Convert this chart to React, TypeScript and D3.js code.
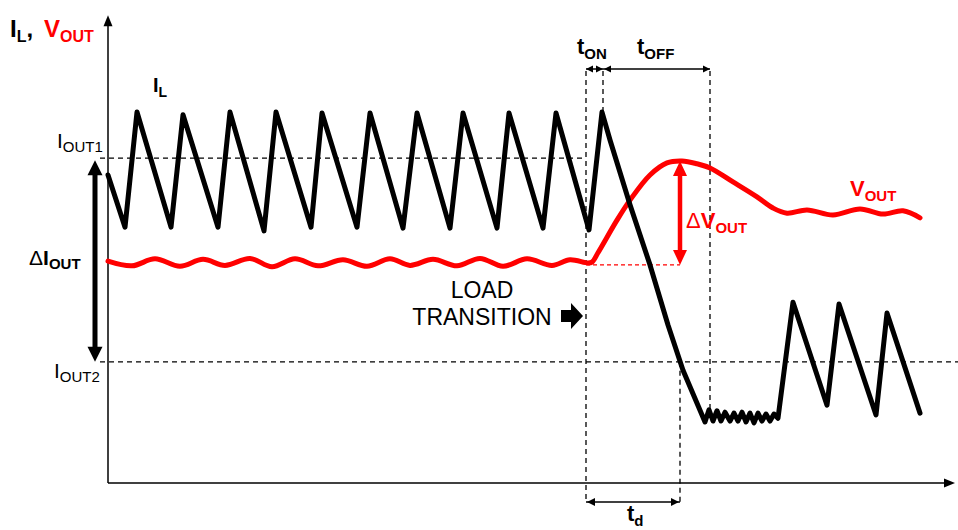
import * as d3 from 'd3';
import { type FC } from 'react';

// Inductor current IL: corners of the trace (time in µs, level in arbitrary units)
const ilTime = [
  0, 0.34, 0.58, 1.26, 1.5, 2.2, 2.44, 3.12, 3.36, 4.06, 4.28, 4.98, 5.24,
  5.9, 6.18, 6.84, 7.1, 7.78, 8.02, 8.7, 8.96, 9.62, 9.88,
  10.04, 10.44, 10.84, 11.2, 11.5, 11.94,
  12.02, 12.1, 12.18, 12.26, 12.34, 12.44, 12.52, 12.6, 12.68, 12.76, 12.84,
  12.92, 13.0, 13.08, 13.16, 13.24, 13.32, 13.4,
  13.7, 14.38, 14.62, 15.36, 15.58, 16.24,
];
const ilLevel = [
  6.61, 5.49, 7.96, 5.49, 7.9, 5.49, 7.96, 5.41, 7.96, 5.49, 7.94, 5.49, 7.94,
  5.47, 7.94, 5.47, 7.94, 5.47, 7.94, 5.47, 7.94, 5.43, 7.96,
  7.36, 5.97, 4.68, 3.39, 2.42, 1.31,
  1.57, 1.33, 1.55, 1.33, 1.52, 1.33, 1.5, 1.33, 1.52, 1.31, 1.5,
  1.29, 1.5, 1.33, 1.48, 1.33, 1.48, 1.39,
  3.88, 1.67, 3.84, 1.46, 3.65, 1.5,
];

// Output voltage VOUT
const voutTime = [
  0, 0.48, 0.94, 1.44, 1.9, 2.34, 2.84, 3.28, 3.74, 4.2, 4.7, 5.18, 5.64,
  6.04, 6.5, 6.98, 7.44, 7.9, 8.38, 8.88, 9.24, 9.6, 9.68, 9.8,
  10.18, 10.44, 10.84, 11.18, 11.48, 11.78, 12.04, 12.5, 12.98, 13.3, 13.58,
  13.98, 14.5, 15.04, 15.5, 15.9, 16.24,
];
const voutLevel = [
  4.76, 4.66, 4.81, 4.65, 4.8, 4.67, 4.82, 4.64, 4.81, 4.66, 4.79, 4.65, 4.81,
  4.67, 4.8, 4.66, 4.82, 4.65, 4.81, 4.67, 4.79, 4.72, 4.74, 4.94,
  5.64, 6.07, 6.61, 6.87, 6.91, 6.85, 6.76, 6.46, 6.14, 5.9, 5.79,
  5.86, 5.75, 5.88, 5.77, 5.84, 5.69,
];

// reference levels
const IOUT1 = 6.97;
const IOUT2 = 2.6;
const VOUT_BASE = 4.68;
const VOUT_PEAK = 6.91;

// event times
const T_LOAD = 9.56;
const T_ON_END = 9.9;
const T_OFF_END = 12.04;
const T_D_END = 11.44;

const W = 958;
const H = 530;
const RED = '#ff0000';
const FONT = '"Liberation Sans", Arial, sans-serif';

const x = d3.scaleLinear().domain([0, 17]).range([108, 958]);
const y = d3.scaleLinear().domain([0, 10]).range([483, 17]);

type Dir = 'up' | 'down' | 'left' | 'right';

// triangle arrowhead with its tip at (tx, ty)
function head(tx: number, ty: number, dir: Dir, len: number, half: number) {
  switch (dir) {
    case 'up':
      return `M${tx},${ty}L${tx - half},${ty + len}L${tx + half},${ty + len}Z`;
    case 'down':
      return `M${tx},${ty}L${tx - half},${ty - len}L${tx + half},${ty - len}Z`;
    case 'left':
      return `M${tx},${ty}L${tx + len},${ty - half}L${tx + len},${ty + half}Z`;
    default:
      return `M${tx},${ty}L${tx - len},${ty - half}L${tx - len},${ty + half}Z`;
  }
}

const App: FC = () => {
  const line = d3
    .line<[number, number]>()
    .x((d) => x(d[0]))
    .y((d) => y(d[1]));

  const ilPath = line(ilTime.map((t, i) => [t, ilLevel[i]]));
  const voutPath = line.curve(d3.curveCatmullRom.alpha(0.5))(
    voutTime.map((t, i) => [t, voutLevel[i]]),
  );

  const x0 = x(0);
  const yAxis = y(0);
  const xEnd = x(16.94);
  const yTop = y(10.04);
  const dimY = 69;
  const tdY = 502;

  const xLoad = x(T_LOAD);
  const xOnEnd = x(T_ON_END);
  const xOffEnd = x(T_OFF_END);
  const xTd = x(T_D_END);

  const dIx = x0 - 13;
  const dITop = y(IOUT1) + 2;
  const dIBot = y(IOUT2);

  const dVTop = y(VOUT_PEAK);
  const dVBot = y(VOUT_BASE);

  const dash = { stroke: '#000', strokeWidth: 1.3, strokeDasharray: '5,4', fill: 'none' };

  return (
    <svg
      width={W}
      height={H}
      style={{ position: 'absolute', left: 0, top: 0, background: '#fff' }}
      fontFamily={FONT}
    >
      {/* axes */}
      <line x1={x0} y1={yAxis} x2={xEnd - 9} y2={yAxis} stroke="#000" strokeWidth={1.5} />
      <path d={head(xEnd, yAxis, 'right', 11, 4.5)} fill="#000" />
      <line x1={x0} y1={yAxis} x2={x0} y2={yTop + 9} stroke="#000" strokeWidth={1.5} />
      <path d={head(x0, yTop, 'up', 11, 4.5)} fill="#000" />

      {/* reference levels */}
      <line x1={x0 - 8} y1={y(IOUT1)} x2={xLoad} y2={y(IOUT1)} {...dash} />
      <line x1={x0 - 8} y1={y(IOUT2)} x2={W} y2={y(IOUT2)} {...dash} />

      {/* timing guides */}
      <line x1={xLoad} y1={dimY + 2} x2={xLoad} y2={tdY} {...dash} />
      <line x1={xOnEnd} y1={dimY + 2} x2={xOnEnd} y2={y(7.96)} {...dash} />
      <line x1={xOffEnd} y1={dimY + 2} x2={xOffEnd} y2={y(1.35)} {...dash} />
      <line x1={xTd} y1={y(IOUT2)} x2={xTd} y2={tdY} {...dash} />

      {/* tON / tOFF dimension */}
      <line x1={xLoad} y1={dimY} x2={xOffEnd} y2={dimY} stroke="#000" strokeWidth={1.5} />
      <path d={head(xLoad, dimY, 'left', 7, 3.5)} fill="#000" />
      <path d={head(xOnEnd, dimY, 'right', 7, 3.5)} fill="#000" />
      <path d={head(xOnEnd + 1, dimY, 'left', 7, 3.5)} fill="#000" />
      <path d={head(xOffEnd, dimY, 'right', 7, 3.5)} fill="#000" />

      {/* td dimension */}
      <line x1={xLoad} y1={tdY} x2={xTd} y2={tdY} stroke="#000" strokeWidth={1.5} />
      <path d={head(xLoad + 1, tdY, 'left', 8, 4)} fill="#000" />
      <path d={head(xTd - 1, tdY, 'right', 8, 4)} fill="#000" />

      {/* ΔVOUT baseline */}
      <line
        x1={xLoad}
        y1={dVBot}
        x2={xTd}
        y2={dVBot}
        stroke={RED}
        strokeWidth={1.4}
        strokeDasharray="4,3"
      />

      {/* traces */}
      <path
        d={voutPath ?? ''}
        fill="none"
        stroke={RED}
        strokeWidth={5}
        strokeLinejoin="round"
        strokeLinecap="round"
      />
      <path
        d={ilPath ?? ''}
        fill="none"
        stroke="#000"
        strokeWidth={5}
        strokeLinejoin="round"
        strokeLinecap="round"
      />

      {/* ΔIOUT arrow */}
      <line x1={dIx} y1={dITop + 12} x2={dIx} y2={dIBot - 12} stroke="#000" strokeWidth={5} />
      <path d={head(dIx, dITop, 'up', 15, 7.5)} fill="#000" />
      <path d={head(dIx, dIBot, 'down', 15, 7.5)} fill="#000" />

      {/* ΔVOUT arrow */}
      <line x1={xTd} y1={dVTop + 12} x2={xTd} y2={dVBot - 12} stroke={RED} strokeWidth={4.5} />
      <path d={head(xTd, dVTop, 'up', 15, 7)} fill={RED} />
      <path d={head(xTd, dVBot, 'down', 15, 7)} fill={RED} />

      {/* load transition block arrow */}
      <path
        d={`M${xLoad - 25},${310}L${xLoad - 15},${310}L${xLoad - 15},${303}L${xLoad - 3},${316}L${xLoad - 15},${329}L${xLoad - 15},${322}L${xLoad - 25},${322}Z`}
        fill="#000"
      />

      {/* labels */}
      <text x={10} y={37} fontSize={24} fontWeight="bold">
        <tspan>I</tspan>
        <tspan fontSize={16} dy={5}>L</tspan>
        <tspan dy={-5}>,</tspan>
        <tspan x={44} fill={RED}>V</tspan>
        <tspan fill={RED} fontSize={16} dy={5}>OUT</tspan>
      </text>

      <text x={153} y={92} fontSize={20} fontWeight="bold">
        <tspan>I</tspan>
        <tspan fontSize={14} dy={5}>L</tspan>
      </text>

      <text x={57} y={148} fontSize={21}>
        <tspan>I</tspan>
        <tspan fontSize={15} dy={4}>OUT1</tspan>
      </text>
      <text x={54} y={378} fontSize={21}>
        <tspan>I</tspan>
        <tspan fontSize={15} dy={4}>OUT2</tspan>
      </text>

      <text x={29} y={265} fontSize={21}>
        <tspan>Δ</tspan>
        <tspan fontWeight="bold">I</tspan>
        <tspan fontWeight="bold" fontSize={15} dy={4}>OUT</tspan>
      </text>

      <text x={482} y={298} fontSize={23} textAnchor="middle">LOAD</text>
      <text x={482} y={325} fontSize={23} textAnchor="middle">TRANSITION</text>

      <text x={686} y={228} fontSize={22} fill={RED}>
        <tspan>Δ</tspan>
        <tspan fontWeight="bold">V</tspan>
        <tspan fontWeight="bold" fontSize={15} dy={5}>OUT</tspan>
      </text>

      <text x={850} y={196} fontSize={22} fill={RED} fontWeight="bold">
        <tspan>V</tspan>
        <tspan fontSize={15} dy={5}>OUT</tspan>
      </text>

      <text x={577} y={54} fontSize={22} fontWeight="bold">
        <tspan>t</tspan>
        <tspan fontSize={15} dy={5}>ON</tspan>
      </text>
      <text x={637} y={54} fontSize={22} fontWeight="bold">
        <tspan>t</tspan>
        <tspan fontSize={15} dy={5}>OFF</tspan>
      </text>
      <text x={627} y={521} fontSize={22} fontWeight="bold">
        <tspan>t</tspan>
        <tspan fontSize={15} dy={5}>d</tspan>
      </text>
    </svg>
  );
};

export default App;
